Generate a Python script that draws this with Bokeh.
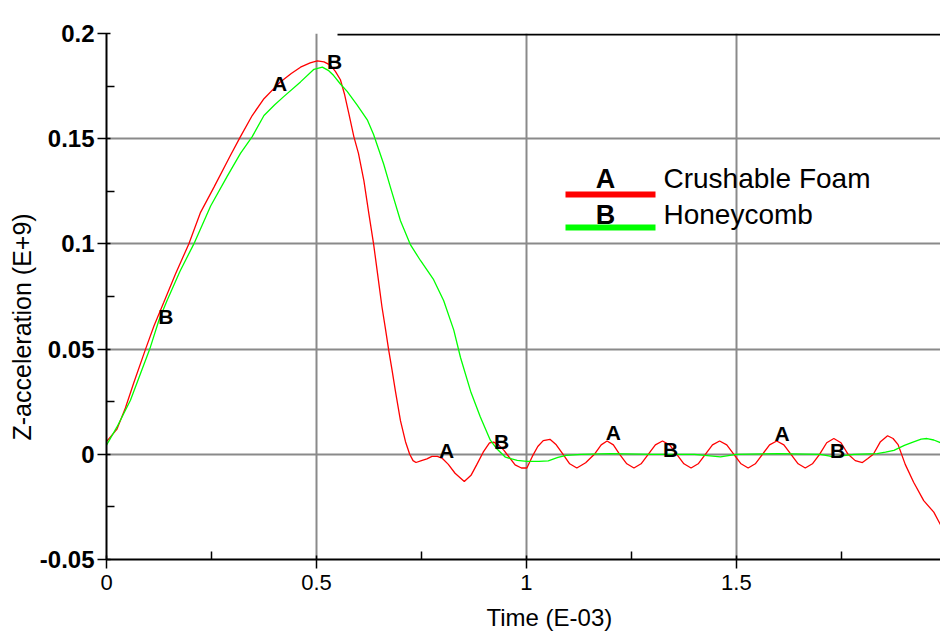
from bokeh.plotting import figure
from bokeh.models import FixedTicker, Label, BoxAnnotation, ColumnDataSource, Title
from bokeh.core.properties import value
from bokeh.embed import file_html
from bokeh.resources import INLINE

# ---- data (time in E-03 s, Z-acceleration in E+9) ----
foam_t = [0, 0.025, 0.045, 0.065, 0.093, 0.113, 0.136, 0.165, 0.196, 0.224, 0.256,
          0.295, 0.319, 0.347, 0.375, 0.414, 0.440, 0.462, 0.485, 0.502, 0.518, 0.533,
          0.545, 0.557, 0.567, 0.577, 0.589, 0.600, 0.613, 0.625, 0.636, 0.646, 0.656,
          0.664, 0.672, 0.680, 0.688, 0.700, 0.712, 0.722, 0.730, 0.737, 0.750, 0.763,
          0.775, 0.788, 0.800, 0.814, 0.830, 0.852, 0.868, 0.882, 0.897, 0.912, 0.922,
          0.933, 0.946, 0.959, 0.973, 0.988, 1.001, 1.014, 1.027, 1.040, 1.056, 1.071,
          1.086, 1.103, 1.120, 1.141, 1.163, 1.178, 1.192, 1.207, 1.222, 1.239, 1.256,
          1.273, 1.290, 1.307, 1.324, 1.341, 1.358, 1.375, 1.392, 1.409, 1.426, 1.443,
          1.460, 1.477, 1.494, 1.511, 1.528, 1.545, 1.562, 1.579, 1.596, 1.613, 1.630,
          1.647, 1.664, 1.681, 1.698, 1.715, 1.732, 1.749, 1.766, 1.783, 1.800, 1.813,
          1.826, 1.843, 1.860, 1.873, 1.885, 1.902, 1.922, 1.946, 1.970, 1.986]
foam_a = [0.006, 0.012, 0.022, 0.034, 0.050, 0.061, 0.072, 0.086, 0.100, 0.115, 0.127,
          0.142, 0.151, 0.161, 0.169, 0.177, 0.181, 0.184, 0.186, 0.187, 0.1865, 0.185,
          0.182, 0.178, 0.171, 0.162, 0.151, 0.143, 0.130, 0.114, 0.100, 0.085, 0.070,
          0.060, 0.0495, 0.040, 0.030, 0.016, 0.006, 0.000, -0.003, -0.0039, -0.003, -0.0022,
          -0.001, -0.001, -0.002, -0.0048, -0.009, -0.0129, -0.010, -0.0048, 0.001, 0.0054, 0.0058,
          0.0046, 0.002, -0.0014, -0.005, -0.0065, -0.0065, -0.001, 0.0037, 0.0065, 0.0071, 0.0045,
          0.0003, -0.0045, -0.0065, -0.004, 0.0003, 0.0045, 0.0063, 0.0045, 0.000, -0.0045, -0.0065,
          -0.0045, 0.000, 0.0045, 0.0063, 0.0045, 0.000, -0.0045, -0.0065, -0.0045, 0.000, 0.0045,
          0.0063, 0.0045, 0.000, -0.0045, -0.0065, -0.0045, 0.000, 0.0045, 0.0063, 0.0045, 0.000,
          -0.0045, -0.0065, -0.0045, 0.000, 0.0055, 0.0075, 0.0055, 0.000, -0.003, -0.0039, -0.002,
          0.000, 0.006, 0.0088, 0.0075, 0.0046, -0.0048, -0.0133, -0.022, -0.0275, -0.0335]

honey_t = [0, 0.025, 0.057, 0.081, 0.103, 0.125, 0.144, 0.175, 0.208, 0.248, 0.287,
           0.319, 0.347, 0.375, 0.400, 0.422, 0.462, 0.494, 0.514, 0.528, 0.541, 0.557,
           0.573, 0.597, 0.621, 0.636, 0.648, 0.660, 0.676, 0.700, 0.724, 0.748, 0.779,
           0.803, 0.827, 0.843, 0.867, 0.890, 0.914, 0.930, 0.950, 0.978, 1.001, 1.030,
           1.052, 1.075, 1.095, 1.130, 1.200, 1.300, 1.400, 1.462, 1.500, 1.600, 1.700,
           1.732, 1.780, 1.835, 1.855, 1.875, 1.900, 1.922, 1.940, 1.954, 1.970, 1.986]
honey_a = [0.0043, 0.013, 0.0257, 0.0384, 0.050, 0.0638, 0.073, 0.087, 0.100, 0.118, 0.132,
           0.143, 0.151, 0.161, 0.166, 0.170, 0.177, 0.183, 0.184, 0.1825, 0.180, 0.176,
           0.1725, 0.166, 0.159, 0.152, 0.145, 0.138, 0.127, 0.111, 0.0995, 0.092, 0.083,
           0.073, 0.059, 0.046, 0.030, 0.0178, 0.0067, 0.0025, -0.0014, -0.0029, -0.0034, -0.0034,
           -0.0031, -0.0015, -0.0005, 0.000, 0.0003, 0.000, 0.000, -0.0012, 0.000, 0.0003, 0.000,
           -0.0012, 0.000, 0.0003, 0.001, 0.0019, 0.0042, 0.0059, 0.0072, 0.0075, 0.0068, 0.0055]

mark_t = [0.412, 0.543, 0.141, 0.810, 0.941, 1.207, 1.343, 1.609, 1.741]
mark_a = [0.176, 0.1867, 0.0654, 0.0017, 0.0063, 0.0102, 0.0024, 0.0097, 0.0017]
mark_txt = ["A", "B", "B", "A", "B", "A", "B", "A", "B"]

series_names = ["Crushable Foam", "Honeycomb"]
series_letters = ["A", "B"]
series_colors = ["#ff0000", "#00ff00"]

x_ticks = [0, 0.5, 1, 1.5]
x_tick_labels = ["0", "0.5", "1", "1.5"]
y_ticks = [-0.05, 0, 0.05, 0.1, 0.15, 0.2]
y_tick_labels = ["-0.05", "0", "0.05", "0.1", "0.15", "0.2"]
x_title = "Time (E-03)"
y_title = "Z-acceleration (E+9)"

SANS = "'Liberation Sans', Arial, sans-serif"

p = figure(width=940, height=640, x_range=(0, 1.986), y_range=(-0.05, 0.2),
           output_backend="svg", toolbar_location=None,
           min_border_left=106, min_border_right=0, min_border_top=33, min_border_bottom=81)
p.outline_line_color = None
p.background_fill_color = "white"
p.border_fill_color = "white"

# axes
p.xaxis.ticker = FixedTicker(ticks=x_ticks, minor_ticks=[0.25, 0.75, 1.25, 1.75])
p.xaxis.major_label_overrides = {t: l for t, l in zip(x_ticks, x_tick_labels)}
p.yaxis.ticker = FixedTicker(ticks=y_ticks, minor_ticks=[-0.025, 0.025, 0.075, 0.125, 0.175])
p.yaxis.major_label_overrides = {t: l for t, l in zip(y_ticks, y_tick_labels)}
for ax in (p.xaxis, p.yaxis):
    ax.axis_line_color = "black"
    ax.axis_line_width = 2
    ax.major_tick_line_color = "black"
    ax.major_tick_line_width = 1.5
    ax.minor_tick_line_color = "black"
    ax.minor_tick_line_width = 1.5
    ax.major_tick_out = 9
    ax.major_tick_in = 4
    ax.minor_tick_in = 8
    ax.minor_tick_out = 0
    ax.major_label_text_color = "black"
p.yaxis.major_label_text_font = SANS
p.yaxis.major_label_text_font_style = "bold"
p.yaxis.major_label_text_font_size = "24px"
p.yaxis.major_label_standoff = 3
p.xaxis.major_label_text_font = SANS
p.xaxis.major_label_text_font_size = "22px"
p.xaxis.major_label_standoff = 6

# axis titles as side-panel titles (allows off-centre placement)
p.add_layout(Title(text=x_title, align="left", offset=380, text_font=SANS,
                   text_font_size="24px", text_font_style="normal", text_color="black",
                   standoff=19), "below")
p.add_layout(Title(text=y_title, align="left", offset=119, text_font=SANS,
                   text_font_size="25px", text_font_style="normal", text_color="black",
                   standoff=2), "left")

# grid
p.xgrid.ticker = FixedTicker(ticks=[0.5, 1, 1.5])
p.ygrid.ticker = FixedTicker(ticks=[0, 0.05, 0.1, 0.15])
for g in (p.xgrid, p.ygrid):
    g.grid_line_color = "#8a8a8a"
    g.grid_line_width = 2

# partial top frame line (screen units: origin at frame bottom-left, y upward)
p.add_layout(BoxAnnotation(left=231, right=834, top=526, bottom=524,
                           left_units="screen", right_units="screen",
                           top_units="screen", bottom_units="screen",
                           fill_color="black", fill_alpha=1, line_color=None))

# curves
p.line(foam_t, foam_a, line_color=series_colors[0], line_width=1.3)
p.line(honey_t, honey_a, line_color=series_colors[1], line_width=1.3)

# curve markers
src = ColumnDataSource(dict(t=mark_t, a=mark_a, s=mark_txt))
p.text(x="t", y="a", text="s", source=src, text_font=value("Liberation Sans"),
       text_font_style="bold", text_font_size="21px", text_color="black",
       text_align="center", text_baseline="middle")

# legend
leg_y = [381, 345]
bar_top = [368, 335]
for i in range(2):
    p.add_layout(BoxAnnotation(left=459, right=549, top=bar_top[i], bottom=bar_top[i] - 6,
                               left_units="screen", right_units="screen",
                               top_units="screen", bottom_units="screen",
                               fill_color=series_colors[i], fill_alpha=1, line_color=None))
    p.add_layout(Label(x=499, y=leg_y[i], x_units="screen", y_units="screen",
                       text=series_letters[i], text_font=SANS, text_font_style="bold",
                       text_font_size="27px", text_align="center", text_baseline="middle",
                       text_color="black"))
    p.add_layout(Label(x=557, y=leg_y[i], x_units="screen", y_units="screen",
                       text=series_names[i], text_font=SANS, text_font_size="28px",
                       text_align="left", text_baseline="middle", text_color="black"))

open("out.html", "w").write(file_html(p, INLINE))
